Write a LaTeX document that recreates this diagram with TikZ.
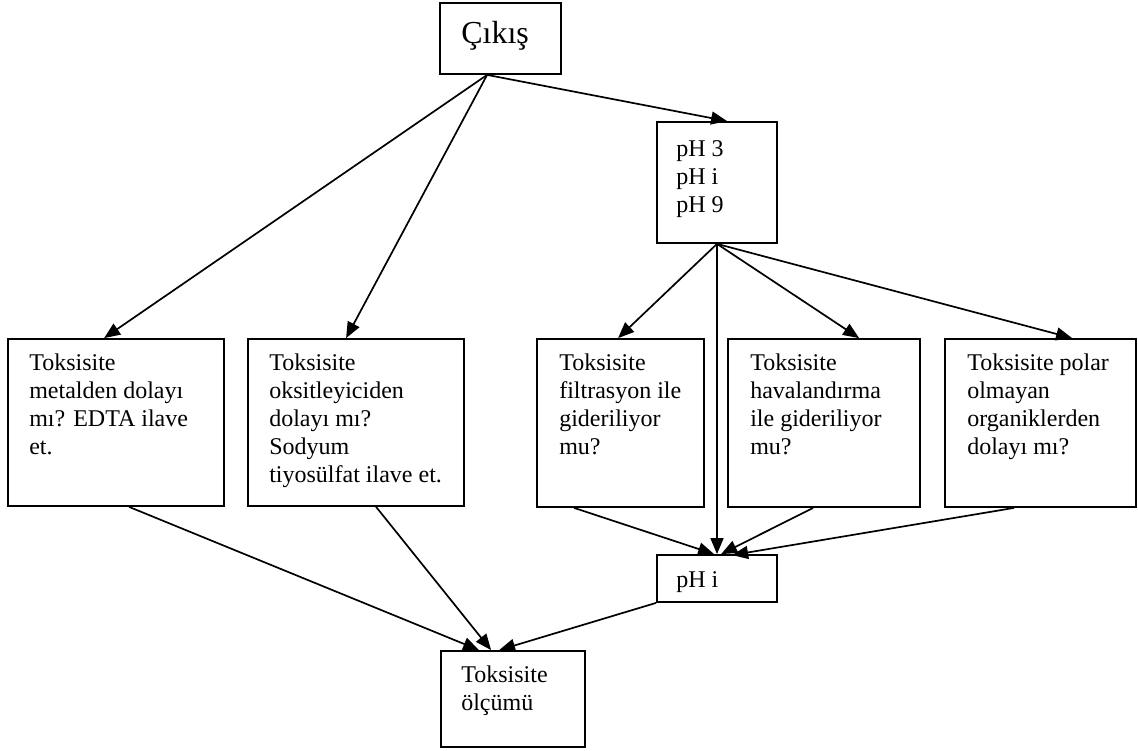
\documentclass[tikz,border=0pt]{standalone}
\usepackage{fontspec}
\setmainfont{Liberation Serif}
\usetikzlibrary{arrows.meta}
\begin{document}
\begin{tikzpicture}[x=1pt,y=-1pt,
  box/.style={draw=black, line width=1.8pt, inner sep=0pt, fill=white},
  txt/.style={anchor=north west, inner sep=0pt, align=left,
              font=\fontsize{24}{28}\selectfont},
  bigtxt/.style={anchor=north west, inner sep=0pt,
              font=\fontsize{32}{36}\selectfont},
  arr/.style={line width=1.7pt, -{Triangle[length=16pt,width=13pt]}}]
\useasboundingbox (0,0) rectangle (1138,751);

% boxes
\node[box, minimum width=121pt, minimum height=71pt]  (cikis) at (500.5,38.5) {};
\node[box, minimum width=120pt, minimum height=121pt] (ph)    at (717,182.5) {};
\node[box, minimum width=216pt, minimum height=167pt] (b1)    at (116,422.5) {};
\node[box, minimum width=216pt, minimum height=167pt] (b2)    at (356,422.5) {};
\node[box, minimum width=167pt, minimum height=168pt] (b3)    at (620.5,423) {};
\node[box, minimum width=192pt, minimum height=168pt] (b4)    at (824,423) {};
\node[box, minimum width=191pt, minimum height=168pt] (b5)    at (1040.5,423) {};
\node[box, minimum width=120pt, minimum height=47pt]  (phi)   at (717,578.5) {};
\node[box, minimum width=144pt, minimum height=96pt]  (olcum) at (513,699) {};

% texts
\node[bigtxt] (tcikis) at ([xshift=22pt,yshift=-19pt]cikis.north west) {Çıkış};
\node[txt] (tph) at ([xshift=20pt,yshift=-19pt]ph.north west) {pH 3\\pH i\\pH 9};
\node[txt] (t1) at ([xshift=22pt,yshift=-16pt]b1.north west)
  {Toksisite\\metalden dolayı\\mı? EDTA ilave\\et.};
\node[txt] (t2) at ([xshift=22pt,yshift=-16pt]b2.north west)
  {Toksisite\\oksitleyiciden\\dolayı mı?\\Sodyum\\tiyosülfat ilave et.};
\node[txt] (t3) at ([xshift=23pt,yshift=-16pt]b3.north west)
  {Toksisite\\filtrasyon ile\\gideriliyor\\mu?};
\node[txt] (t4) at ([xshift=23pt,yshift=-16pt]b4.north west)
  {Toksisite\\havalandırma\\ile gideriliyor\\mu?};
\node[txt] (t5) at ([xshift=23pt,yshift=-16pt]b5.north west)
  {Toksisite polar\\olmayan\\organiklerden\\dolayı mı?};
\node[txt] (tphi) at ([xshift=20pt,yshift=-17pt]phi.north west) {pH i};
\node[txt] (tolcum) at ([xshift=21pt,yshift=-16pt]olcum.north west) {Toksisite\\ölçümü};

% connectors from the start box
\coordinate (cout) at ([xshift=48pt]cikis.south west);
\draw[arr] (cout) -- ([xshift=97pt]b1.north west);
\draw[arr] (cout) -- ([xshift=99pt]b2.north west);
\draw[arr] (cout) -- ([xshift=71pt]ph.north west);

% connectors from the pH box
\draw[arr] (ph.south) -- ([xshift=82pt]b3.north west);
\draw[arr] (ph.south) -- (phi.north);
\draw[arr] (ph.south) -- ([xshift=132pt]b4.north west);
\draw[arr] (ph.south) -- ([xshift=128pt]b5.north west);

% connectors into pH i
\draw[arr] ([xshift=38pt]b3.south west) -- ([xshift=58pt]phi.north west);
\draw[arr] ([xshift=86pt]b4.south west) -- ([xshift=65pt]phi.north west);
\draw[arr] ([xshift=70pt]b5.south west) -- ([xshift=76pt,yshift=-1pt]phi.north west);

% connectors into the measurement box
\draw[arr] ([xshift=122pt]b1.south west) -- ([xshift=39pt]olcum.north west);
\draw[arr] ([xshift=129pt]b2.south west) -- ([xshift=51pt]olcum.north west);
\draw[arr] (phi.south west) -- ([xshift=59pt]olcum.north west);
\end{tikzpicture}
\end{document}
